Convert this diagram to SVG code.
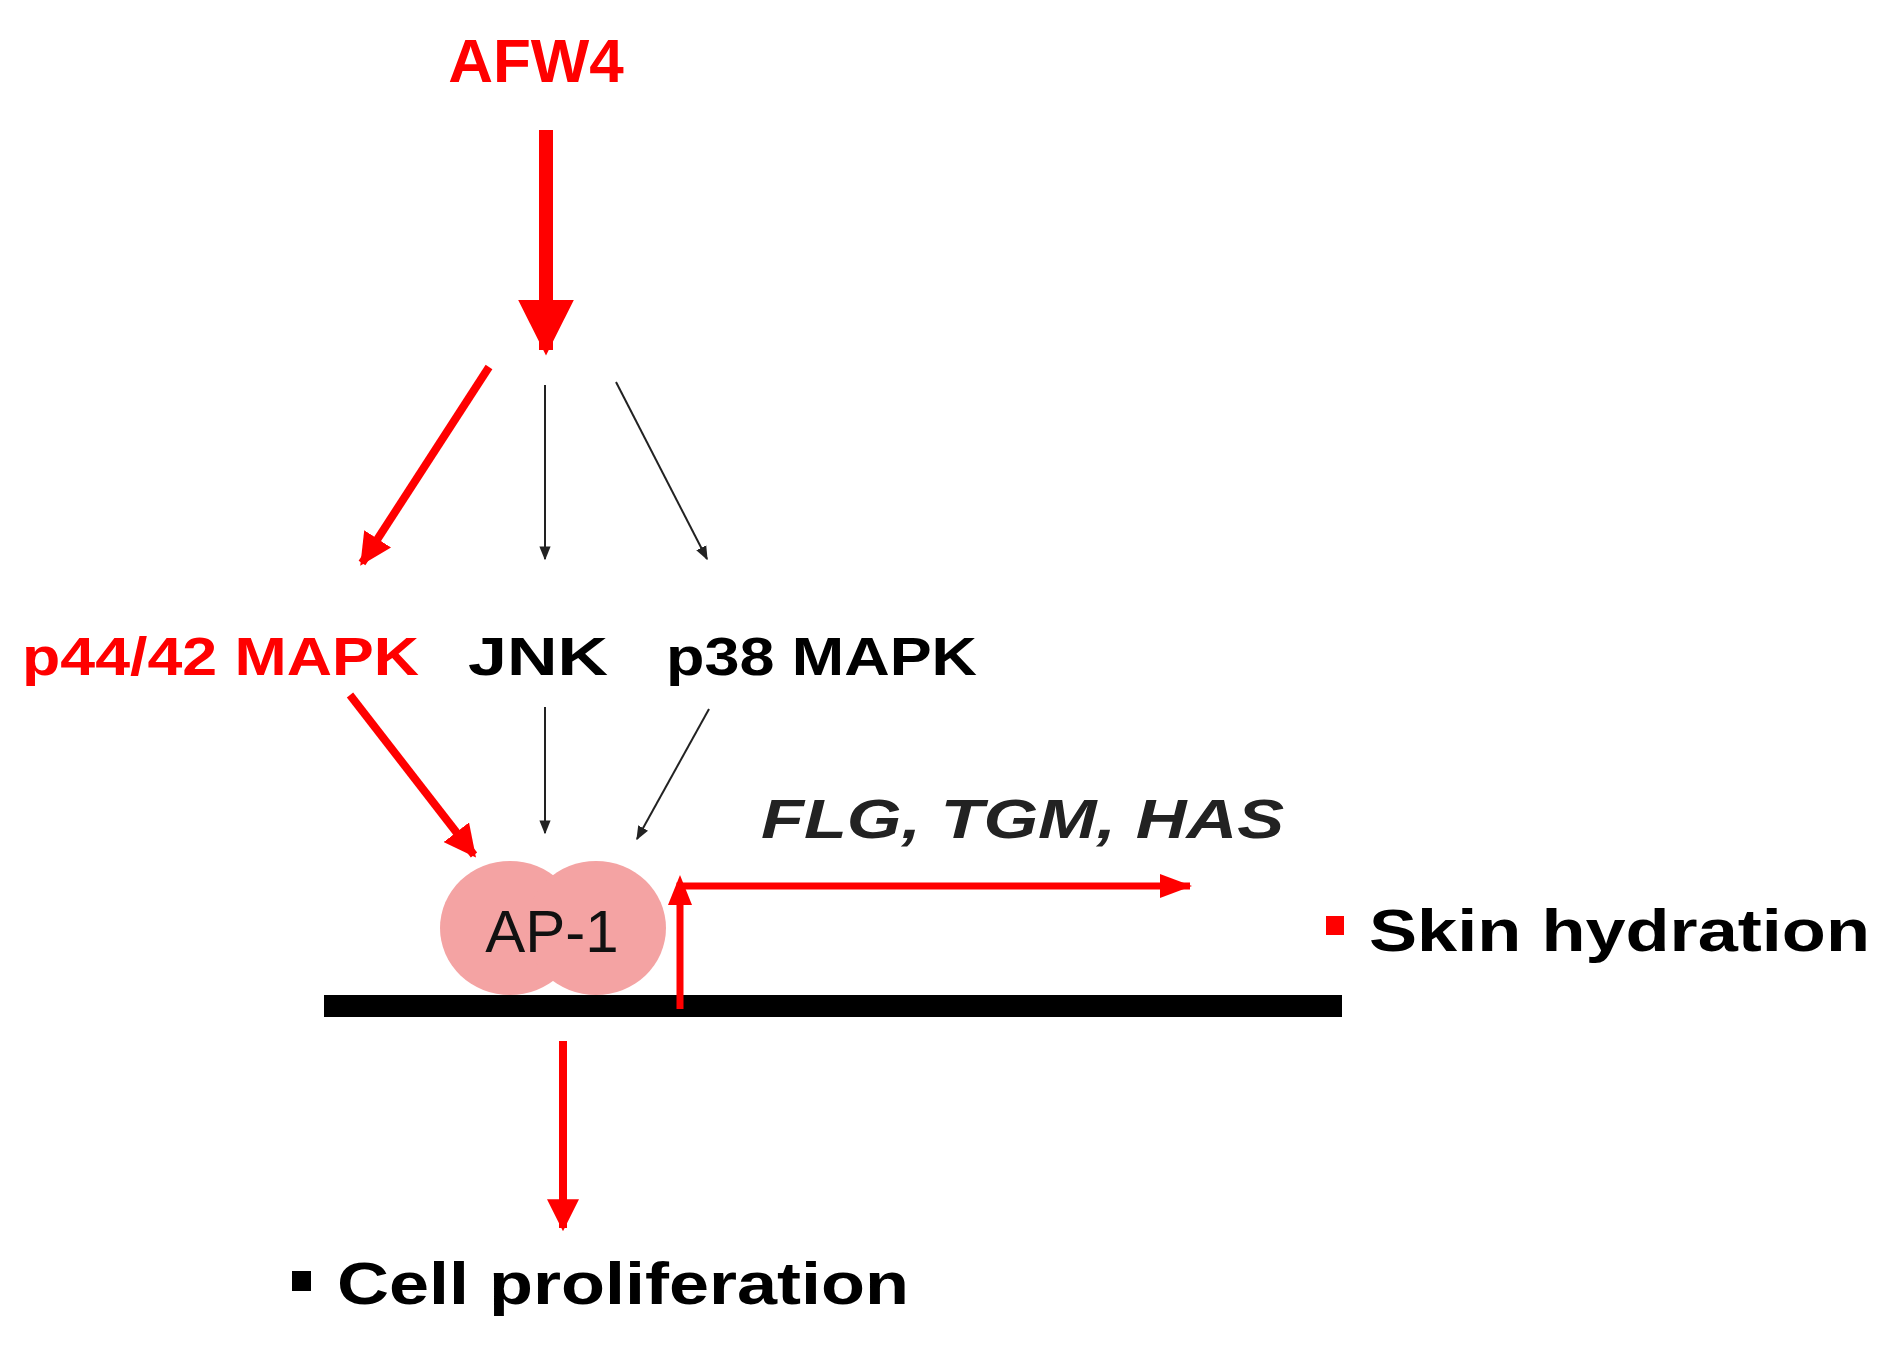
<svg xmlns="http://www.w3.org/2000/svg" width="1895" height="1358" viewBox="0 0 1895 1358">
<style>
text{font-family:"Liberation Sans",Arial,sans-serif;font-weight:bold}
.r{fill:#ff0000}.k{fill:#000}
.rl{stroke:#ff0000;fill:none}.kl{stroke:#222;stroke-width:2;fill:none}
</style>
<defs>
<marker id="ah" viewBox="0 0 10 10" refX="9" refY="5" markerWidth="4" markerHeight="4" orient="auto" markerUnits="strokeWidth"><path d="M0,0L10,5L0,10z" fill="#ff0000"/></marker>
<marker id="ab" viewBox="0 0 10 10" refX="9" refY="5" markerWidth="7" markerHeight="7" orient="auto" markerUnits="strokeWidth"><path d="M0,1L10,5L0,9z" fill="#222"/></marker>
</defs>
<rect width="1895" height="1358" fill="#fff"/>
<g id="bar"><rect x="324" y="995" width="1018" height="22" fill="#000"/></g>
<g id="ap1">
<ellipse cx="510" cy="928" rx="70" ry="67" fill="#f4a3a3"/>
<ellipse cx="596" cy="928" rx="70" ry="67" fill="#f4a3a3"/>
<text x="552" y="952" font-size="60" text-anchor="middle" font-weight="normal" fill="#111" style="font-weight:normal">AP-1</text>
</g>
<g id="afw4"><text x="536" y="82" font-size="62" class="r" text-anchor="middle">AFW4</text></g>
<g id="p4442"><text x="22" y="675" font-size="54" class="r" textLength="397" lengthAdjust="spacingAndGlyphs">p44/42 MAPK</text></g>
<g id="jnk"><text x="468" y="675" font-size="54" class="k" textLength="140" lengthAdjust="spacingAndGlyphs">JNK</text></g>
<g id="p38"><text x="666" y="675" font-size="54" class="k" textLength="311" lengthAdjust="spacingAndGlyphs">p38 MAPK</text></g>
<g id="genes"><text x="761" y="838" font-size="56" font-style="italic" fill="#222" textLength="523" lengthAdjust="spacingAndGlyphs">FLG, TGM, HAS</text></g>
<g id="skin"><rect x="1326" y="916" width="18" height="19" fill="#ff0000"/><text x="1369" y="951" font-size="60" class="k" textLength="501" lengthAdjust="spacingAndGlyphs">Skin hydration</text></g>
<g id="cell"><rect x="292" y="1271" width="19" height="20" fill="#000"/><text x="337" y="1304" font-size="60" class="k" textLength="572" lengthAdjust="spacingAndGlyphs">Cell proliferation</text></g>
<g id="connectors">
<line class="rl" x1="546" y1="130" x2="546" y2="350" stroke-width="14" marker-end="url(#ah)"/>
<line class="rl" x1="489" y1="367" x2="362" y2="563" stroke-width="8" marker-end="url(#ah)"/>
<line class="kl" x1="545" y1="385" x2="545" y2="559" marker-end="url(#ab)"/>
<line class="kl" x1="616" y1="382" x2="707" y2="559" marker-end="url(#ab)"/>
<line class="rl" x1="350" y1="695" x2="474" y2="855" stroke-width="8" marker-end="url(#ah)"/>
<line class="kl" x1="545" y1="707" x2="545" y2="833" marker-end="url(#ab)"/>
<line class="kl" x1="709" y1="709" x2="637" y2="839" marker-end="url(#ab)"/>
<polyline class="rl" points="680,1009 680,886 1190,886" stroke-width="7" stroke-linejoin="miter"/>
<path d="M680,875L668,905L692,905z" fill="#ff0000"/>
<path d="M1192,886L1160,874L1160,898z" fill="#ff0000"/>
<line class="rl" x1="563" y1="1041" x2="563" y2="1228" stroke-width="8" marker-end="url(#ah)"/>
</g>
</svg>
